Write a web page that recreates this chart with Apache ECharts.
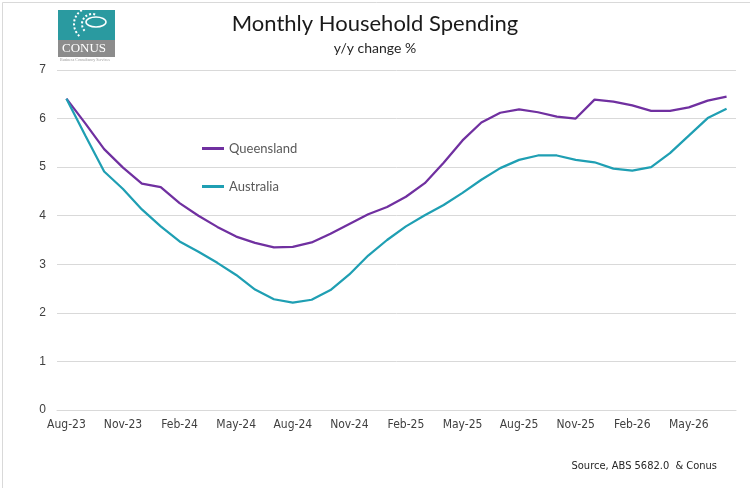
<!DOCTYPE html>
<html>
<head>
<meta charset="utf-8">
<style>
  html, body { margin: 0; padding: 0; background: #fff; }
  #chart { width: 750px; height: 488px; }
</style>
<script src="https://cdn.jsdelivr.net/npm/echarts@6/dist/echarts.min.js"></script>
</head>
<body>
<div id="chart"></div>
<script>
// months, Aug-23 .. Jul-26
var months = ['Aug-23','Sep-23','Oct-23','Nov-23','Dec-23','Jan-24','Feb-24','Mar-24','Apr-24','May-24','Jun-24','Jul-24',
              'Aug-24','Sep-24','Oct-24','Nov-24','Dec-24','Jan-25','Feb-25','Mar-25','Apr-25','May-25','Jun-25','Jul-25',
              'Aug-25','Sep-25','Oct-25','Nov-25','Dec-25','Jan-26','Feb-26','Mar-26','Apr-26','May-26','Jun-26','Jul-26'];

// y/y change %
var queensland = [6.41, 5.9, 5.37, 4.99, 4.66, 4.59, 4.26, 4.0, 3.77, 3.57, 3.44, 3.35,
                  3.36, 3.45, 3.63, 3.83, 4.03, 4.18, 4.39, 4.67, 5.09, 5.55, 5.92, 6.12,
                  6.19, 6.13, 6.04, 6.0, 6.39, 6.35, 6.27, 6.16, 6.16, 6.23, 6.37, 6.45];
var australia  = [6.41, 5.65, 4.91, 4.55, 4.13, 3.78, 3.47, 3.26, 3.03, 2.78, 2.48, 2.28,
                  2.21, 2.27, 2.47, 2.79, 3.18, 3.5, 3.78, 4.01, 4.22, 4.47, 4.74, 4.98,
                  5.15, 5.24, 5.24, 5.15, 5.1, 4.97, 4.93, 5.0, 5.29, 5.65, 6.01, 6.2];

var purple = '#7030a0';
var teal = '#1f9fb3';
var narrow = "'DejaVu Sans Condensed', 'Roboto Condensed', Roboto, sans-serif";

var myChart = echarts.init(document.getElementById('chart'));

var option = {
    backgroundColor: '#fff',
    animation: false,
    title: {
        text: 'Monthly Household Spending',
        subtext: 'y/y change %',
        left: 'center',
        top: 8,
        itemGap: 6,
        textStyle: { fontFamily: 'Lato', fontWeight: 'normal', fontSize: 22, color: '#1a1a1a' },
        subtextStyle: { fontFamily: 'Lato', fontSize: 14, color: '#262626' }
    },
    legend: {
        orient: 'vertical',
        left: 197,
        top: 137,
        itemGap: 25,
        itemWidth: 22,
        itemHeight: 3,
        icon: 'rect',
        textStyle: { fontFamily: 'Lato', fontSize: 13, color: '#595959' },
        data: ['Queensland', 'Australia']
    },
    grid: { left: 57, right: 14, top: 70, bottom: 78, containLabel: false },
    xAxis: {
        type: 'category',
        data: months,
        boundaryGap: true,
        axisLine: { lineStyle: { color: '#d9d9d9' } },
        axisTick: { interval: 2, length: 5, lineStyle: { color: '#d9d9d9' } },
        axisLabel: { interval: 2, margin: 9, fontFamily: narrow, fontSize: 12, color: '#404040' }
    },
    yAxis: {
        type: 'value',
        min: 0,
        max: 7,
        interval: 1,
        axisLine: { show: false },
        axisTick: { show: false },
        axisLabel: { margin: 11, fontFamily: 'Liberation Sans', fontSize: 12, color: '#404040' },
        splitLine: { lineStyle: { color: '#d9d9d9' } }
    },
    series: [
        {
            name: 'Queensland',
            type: 'line',
            data: queensland,
            symbol: 'none',
            color: purple,
            lineStyle: { width: 2.25, color: purple }
        },
        {
            name: 'Australia',
            type: 'line',
            data: australia,
            symbol: 'none',
            color: teal,
            lineStyle: { width: 2.25, color: teal }
        }
    ],
    graphic: [
        // outer border
        { type: 'rect', left: 0, top: 0, shape: { width: 749, height: 487 }, style: { fill: 'none', stroke: '#d9d9d9', lineWidth: 1 } },
        // logo
        { type: 'rect', left: 58, top: 10, shape: { width: 57, height: 30 }, style: { fill: '#2a9aa0' } },
        { type: 'rect', left: 58, top: 40, shape: { width: 57, height: 17 }, style: { fill: '#8c8c8c' } },
        { type: 'arc', shape: { cx: 90, cy: 24, r: 16, startAngle: 2.3, endAngle: 4.9 }, style: { stroke: '#fff', lineWidth: 2, fill: 'none', lineDash: [2, 2] } },
        { type: 'arc', shape: { cx: 92, cy: 24, r: 10, startAngle: 2.4, endAngle: 5.2 }, style: { stroke: '#fff', lineWidth: 2, fill: 'none', lineDash: [2, 2] } },
        { type: 'ellipse', shape: { cx: 96, cy: 22, rx: 10, ry: 5 }, style: { stroke: '#fff', lineWidth: 1.5, fill: 'none' } },
        { type: 'text', left: 62, top: 42, style: { text: 'CONUS', font: '13px "Liberation Serif"', fill: '#fff' } },
        { type: 'text', left: 60, top: 58, style: { text: 'Business Consultancy Services', font: '4px "Liberation Serif"', fill: '#999' } },
        // source
        { type: 'text', right: 33, top: 461, style: { text: 'Source, ABS 5682.0  & Conus', font: '11px ' + narrow, fill: '#262626' } }
    ]
};

myChart.setOption(option);
</script>
</body>
</html>
